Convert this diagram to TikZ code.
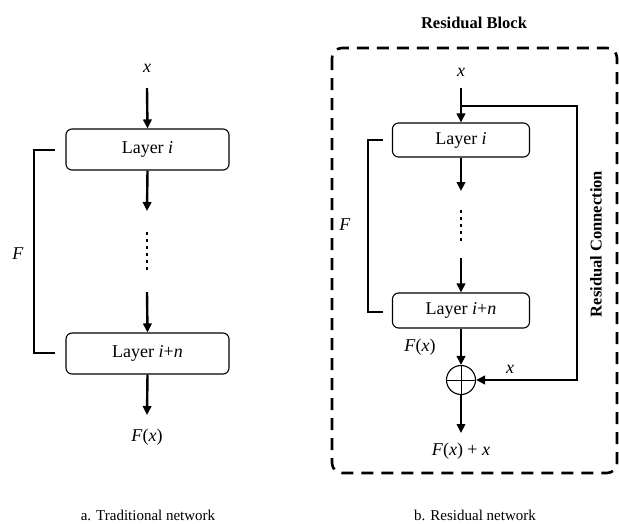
\documentclass[tikz,border=0pt]{standalone}
\usepackage{fontspec}
\setmainfont{Liberation Serif}
\usetikzlibrary{arrows.meta}
\begin{document}
\begin{tikzpicture}[x=1pt,y=-1pt,
  layerbox/.style={draw,line width=1.1pt,rounded corners=6pt,inner sep=0pt,
    font=\fontsize{18}{20}\selectfont},
  flow/.style={line width=2.4pt,-{Triangle[length=9pt,width=8.5pt]}},
  bracketline/.style={line width=2.2pt},
  dotline/.style={line width=2.4pt,dash pattern=on 2.5pt off 4.5pt},
  lbl/.style={inner sep=0pt,font=\fontsize{18}{20}\selectfont},
  caption/.style={inner sep=0pt,font=\fontsize{15}{17}\selectfont},
  headline/.style={inner sep=0pt,font=\fontsize{16.5}{18}\selectfont\bfseries}]
\useasboundingbox (0,0) rectangle (619,523);

% ---------- a. traditional network ----------
\node[lbl] (xa) at (147,68) {\textit{x}};
\node[layerbox,minimum width=163pt,minimum height=41pt] (Li) at (147.5,149.5) {Layer \textit{i}};
\node[layerbox,minimum width=163pt,minimum height=41pt] (Ln) at (147.5,353.5) {Layer \textit{i}+\textit{n}};
\node[lbl] (Fxa) at (147,437) {\textit{F}(\textit{x})};
\node[lbl] (Fa) at (18,254) {\textit{F}};
\coordinate (a0) at (147,88);
\coordinate (a1) at (147,211);
\coordinate (a2) at (147,232);
\coordinate (a3) at (147,270);
\coordinate (a4) at (147,292);
\coordinate (a5) at (147,415);
\draw[flow] (a0) -- (Li.north);
\draw[flow] (Li.south) -- (a1);
\draw[dotline] (a2) -- (a3);
\draw[flow] (a4) -- (Ln.north);
\draw[flow] (Ln.south) -- (a5);
\coordinate (ba) at (55,150);
\coordinate (bb) at (55,353);
\draw[bracketline] (ba) -- ++(-21,0) |- (bb);

% ---------- b. residual network ----------
\draw[line width=2.6pt,dash pattern=on 12pt off 8pt,rounded corners=10pt]
  (332,48) rectangle (617,473);
\node[headline] (rb) at (474,23) {Residual Block};
\node[headline,rotate=90] (rc) at (596,244) {Residual Connection};

\node[lbl] (xb) at (461,72) {\textit{x}};
\node[layerbox,minimum width=137pt,minimum height=34pt] (Ri) at (461,140) {Layer \textit{i}};
\node[layerbox,minimum width=137pt,minimum height=35pt] (Rn) at (461,310.5) {Layer \textit{i}+\textit{n}};
\node[draw,circle,line width=1.1pt,minimum size=29pt,inner sep=0pt] (sum) at (461,380) {};
\draw[line width=0.8pt] (sum.north) -- (sum.south) (sum.west) -- (sum.east);
\node[lbl] (Fxb) at (420,347) {\textit{F}(\textit{x})};
\node[lbl] (xr) at (510,369) {\textit{x}};
\node[lbl] (out) at (461,451) {\textit{F}(\textit{x}) + \textit{x}};
\node[lbl] (Fb) at (345,225) {\textit{F}};

\coordinate (b0) at (461,88);
\coordinate (split) at (461,106);
\coordinate (b1) at (461,191);
\coordinate (b2) at (461,210);
\coordinate (b3) at (461,245);
\coordinate (b4) at (461,258);
\coordinate (b5) at (461,433);
\coordinate (skip) at (577,106);
\draw[flow] (b0) -- (Ri.north);
\draw[flow] (Ri.south) -- (b1);
\draw[dotline,line width=2pt] (b2) -- (b3);
\draw[flow] (b4) -- (Rn.north);
\draw[flow] (Rn.south) -- (sum.north);
\draw[flow] (sum.south) -- (b5);
\draw[flow] (split) -- (skip) |- (sum.east);
\coordinate (bc) at (383,140);
\coordinate (bd) at (383,312);
\draw[bracketline] (bc) -- ++(-15,0) |- (bd);

% ---------- captions ----------
\node[caption] (capa) at (148,515) {a. Traditional network};
\node[caption] (capb) at (475,515) {b. Residual network};
\end{tikzpicture}
\end{document}
